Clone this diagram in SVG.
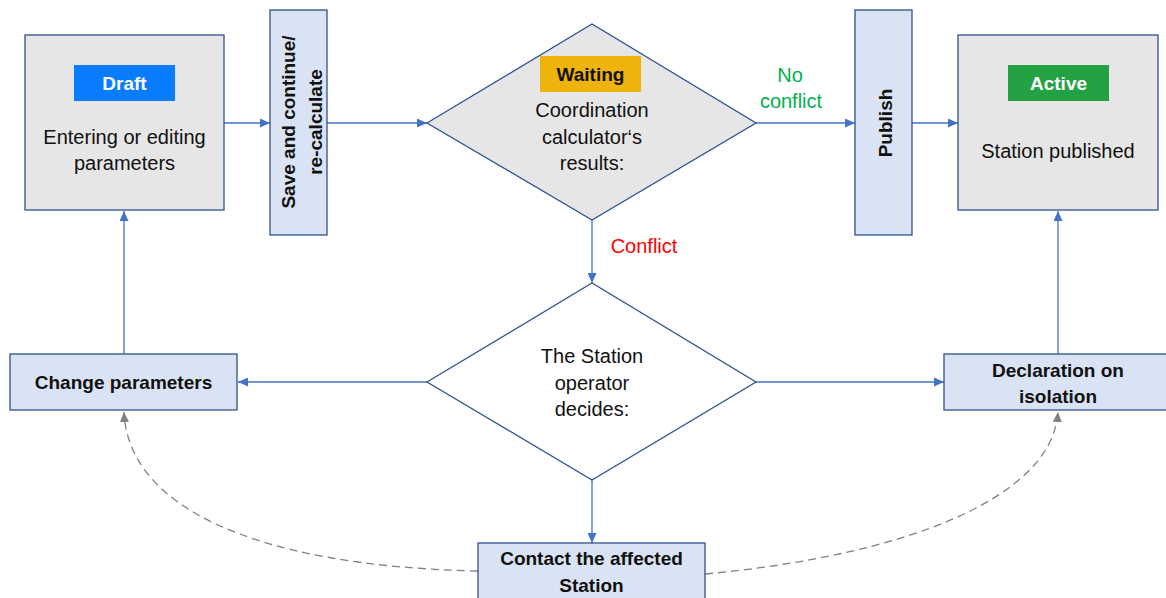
<svg xmlns="http://www.w3.org/2000/svg" width="1166" height="598" viewBox="0 0 1166 598">
<defs>
<marker id="arr" markerUnits="userSpaceOnUse" markerWidth="10" markerHeight="9" refX="10" refY="4.5" orient="auto"><path d="M0,0 L10,4.5 L0,9 z" fill="#4472c4"/></marker>
<marker id="arrg" markerUnits="userSpaceOnUse" markerWidth="10" markerHeight="9" refX="10" refY="4.5" orient="auto"><path d="M0,0 L10,4.5 L0,9 z" fill="#808080"/></marker>
<style>
.state{fill:#e6e6e6;stroke:#2f528f;stroke-width:1.3}
.act{fill:#dae3f3;stroke:#2f528f;stroke-width:1.3}
.dia{stroke:#2f528f;stroke-width:1.3}
.t{font-family:"Liberation Sans",Arial,sans-serif;font-size:20px;fill:#111;text-anchor:middle}
.b{font-family:"Liberation Sans",Arial,sans-serif;font-size:19px;font-weight:bold;fill:#111;text-anchor:middle}
.lbl{font-family:"Liberation Sans",Arial,sans-serif;font-size:19px;font-weight:bold;text-anchor:middle}
.c{fill:none;stroke:#4472c4;stroke-width:1.3;marker-end:url(#arr)}
.d{fill:none;stroke:#808080;stroke-width:1.3;stroke-dasharray:8,5;marker-end:url(#arrg)}
</style>
</defs>
<rect width="1166" height="598" fill="#fff"/>
<g id="connectors">
<line class="c" x1="224" y1="123" x2="270" y2="123"/>
<line class="c" x1="327" y1="123" x2="427" y2="123"/>
<line class="c" x1="756" y1="123" x2="855" y2="123"/>
<line class="c" x1="912" y1="123" x2="958" y2="123"/>
<line class="c" x1="592" y1="220" x2="592" y2="283"/>
<line class="c" x1="427" y1="382" x2="238" y2="382"/>
<line class="c" x1="756" y1="382" x2="944" y2="382"/>
<line class="c" x1="592" y1="480" x2="592" y2="543"/>
<line class="c" x1="124" y1="354" x2="124" y2="211"/>
<line class="c" x1="1058" y1="354" x2="1058" y2="211"/>
<path class="d" d="M478,571 C250,566 128,505 124,412"/>
<path class="d" d="M705,574 C900,556 1052,500 1058,412"/>
<text x="790" y="82" class="t" fill="#00b050" style="fill:#00b050">No</text>
<text x="791" y="108" class="t" style="fill:#00b050">conflict</text>
<text x="644" y="253" class="t" style="fill:#ff0000">Conflict</text>
</g>
<g id="draft">
<rect class="state" x="25" y="35" width="199" height="175"/>
<rect x="74" y="65" width="101" height="36" fill="#0a7cff"/>
<text x="124.5" y="90" class="lbl" fill="#fff">Draft</text>
<text x="124.5" y="144" class="t">Entering or editing</text>
<text x="124.5" y="170" class="t">parameters</text>
</g>
<g id="save">
<rect class="act" x="270" y="10" width="57" height="225"/>
<text transform="translate(298,122) rotate(-90)" class="b"><tspan x="0" y="-3">Save and continue/</tspan><tspan x="0" y="24">re-calculate</tspan></text>
</g>
<g id="waiting">
<polygon class="dia" fill="#e6e6e6" points="427,123 592,24 756,123 592,220"/>
<rect x="540" y="56" width="101" height="36" fill="#efb40b"/>
<text x="590.5" y="81" class="lbl" fill="#111">Waiting</text>
<text x="592" y="117" class="t">Coordination</text>
<text x="592" y="144" class="t">calculator‘s</text>
<text x="592" y="170" class="t">results:</text>
</g>
<g id="publish">
<rect class="act" x="855" y="10" width="57" height="225"/>
<text transform="translate(884,123) rotate(-90)" class="b"><tspan x="0" y="8">Publish</tspan></text>
</g>
<g id="active">
<rect class="state" x="958" y="35" width="200" height="175"/>
<rect x="1008" y="65" width="101" height="36" fill="#22a243"/>
<text x="1058.5" y="90" class="lbl" fill="#fff">Active</text>
<text x="1058" y="158" class="t">Station published</text>
</g>
<g id="decide">
<polygon class="dia" fill="#fff" points="427,382 592,283 756,382 592,480"/>
<text x="592" y="363" class="t">The Station</text>
<text x="592" y="390" class="t">operator</text>
<text x="592" y="416" class="t">decides:</text>
</g>
<g id="change">
<rect class="act" x="10" y="354" width="227" height="56"/>
<text x="123.5" y="389" class="b">Change parameters</text>
</g>
<g id="declaration">
<rect class="act" x="944" y="354" width="228" height="56"/>
<text x="1058" y="377" class="b">Declaration on</text>
<text x="1058" y="403" class="b">isolation</text>
</g>
<g id="contact">
<rect class="act" x="478" y="543" width="227" height="60"/>
<text x="591.5" y="565" class="b">Contact the affected</text>
<text x="591.5" y="592" class="b">Station</text>
</g>
</svg>
